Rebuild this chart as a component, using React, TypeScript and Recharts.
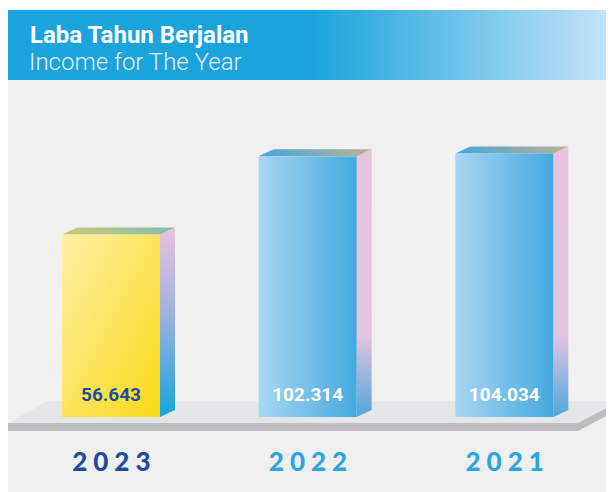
import { BarChart, Bar, XAxis, YAxis } from "recharts";

const YEARS = ["2023", "2022", "2021"];
const INCOME = [56.643, 102.314, 104.034];
const Y_DOMAIN: [number, number] = [-50, 130];

const data = YEARS.map((year, i) => ({ year, income: INCOME[i] }));

const YEAR_COLORS = ["#1c4d9b", "#2aa6e0", "#2aa6e0"];

// ── 3D box bar ─────────────────────────────────────────────────────────────
function Box3D(props: any) {
  const { x = 0, y = 0, width = 0, height = 0, index = 0, payload } = props;
  const dx = 15;
  const dy = 7;
  const bottom = y + height;
  const yellow = index === 0;
  const front = yellow ? "url(#frontYellow)" : "url(#frontBlue)";
  const side = yellow ? "url(#sideYellow)" : "url(#sideBlue)";
  const top = yellow ? "url(#topYellow)" : "url(#topBlue)";
  return (
    <g>
      <polygon
        points={`${x + width},${y} ${x + width + dx},${y - dy} ${x + width + dx},${bottom - dy} ${x + width},${bottom}`}
        fill={side}
      />
      <polygon
        points={`${x},${y} ${x + dx},${y - dy} ${x + width + dx},${y - dy} ${x + width},${y}`}
        fill={top}
      />
      <rect x={x} y={y} width={width} height={height} fill={front} />
      <text
        x={x + width / 2}
        y={bottom - 16}
        textAnchor="middle"
        fontFamily="Roboto"
        fontWeight={700}
        fontSize={19}
        fill={yellow ? "#1d4f9c" : "#ffffff"}
      >
        {payload.income.toFixed(3)}
      </text>
    </g>
  );
}

function YearTick(props: any) {
  const { x, y, payload, index } = props;
  return (
    <text
      x={x + 3}
      y={y + 46}
      textAnchor="middle"
      fontFamily="Lato"
      fontWeight={900}
      fontSize={26}
      letterSpacing={6}
      fill={YEAR_COLORS[index] ?? "#2aa6e0"}
    >
      {payload.value}
    </text>
  );
}

export default function App() {
  return (
    <div style={{ position: "relative", width: 606, height: 484, fontFamily: "Roboto" }}>
      {/* header band */}
      <div
        style={{
          position: "absolute", left: 0, top: 2, width: 606, height: 70,
          background: "linear-gradient(90deg, #1ba3dc 0%, #1ba3dc 50%, #c6e5f8 100%)",
        }}
      >
        <div style={{ position: "absolute", left: 22, top: 12, color: "#ffffff", fontWeight: 700, fontSize: 24, lineHeight: "27px" }}>
          Laba Tahun Berjalan
        </div>
        <div style={{ position: "absolute", left: 21, top: 39, color: "#e8eef3", fontWeight: 300, fontSize: 24, lineHeight: "27px" }}>
          Income for The Year
        </div>
      </div>
      {/* panel background */}
      <div style={{ position: "absolute", left: 0, top: 72, width: 606, height: 412, background: "#f0f0f0" }} />
      {/* floor platform */}
      <svg width={606} height={484} style={{ position: "absolute", left: 0, top: 0 }}>
        <polygon points="0,415 40,393 606,393 606,396 570,415" fill="#e5e6e8" />
        <polygon points="0,415 570,415 606,396 606,404 570,423 0,423" fill="#bdbec0" />
      </svg>
      <div style={{ position: "absolute", left: 0, top: 0 }}>
        <BarChart
          width={606}
          height={484}
          data={data}
          margin={{ top: 101, right: 11, bottom: 15, left: 5 }}
        >
          <defs>
            <linearGradient id="frontYellow" x1="0" y1="0" x2="1" y2="1">
              <stop offset="0%" stopColor="#fdf0a6" />
              <stop offset="100%" stopColor="#fad916" />
            </linearGradient>
            <linearGradient id="sideYellow" x1="0" y1="0" x2="0" y2="1">
              <stop offset="0%" stopColor="#e8c3df" />
              <stop offset="45%" stopColor="#9fb2de" />
              <stop offset="100%" stopColor="#17a3de" />
            </linearGradient>
            <linearGradient id="topYellow" x1="0" y1="0" x2="1" y2="0">
              <stop offset="0%" stopColor="#cbc978" />
              <stop offset="100%" stopColor="#85bfae" />
            </linearGradient>
            <linearGradient id="frontBlue" x1="0" y1="0" x2="1" y2="0">
              <stop offset="0%" stopColor="#a8d6f3" />
              <stop offset="100%" stopColor="#44a9df" />
            </linearGradient>
            <linearGradient id="sideBlue" x1="0" y1="0" x2="0" y2="1">
              <stop offset="0%" stopColor="#e6c3df" />
              <stop offset="70%" stopColor="#e3c3e0" />
              <stop offset="100%" stopColor="#4ea6dc" />
            </linearGradient>
            <linearGradient id="topBlue" x1="0" y1="0" x2="1" y2="0">
              <stop offset="0%" stopColor="#45a6db" />
              <stop offset="100%" stopColor="#bcb195" />
            </linearGradient>
          </defs>
          <XAxis
            dataKey="year"
            axisLine={false}
            tickLine={false}
            height={60}
            interval={0}
            tick={<YearTick />}
          />
          <YAxis hide domain={Y_DOMAIN} />
          <Bar
            dataKey={(d: any) => [Y_DOMAIN[0], d.income]}
            barSize={98}
            shape={<Box3D />}
            isAnimationActive={false}
          />
        </BarChart>
      </div>
    </div>
  );
}
